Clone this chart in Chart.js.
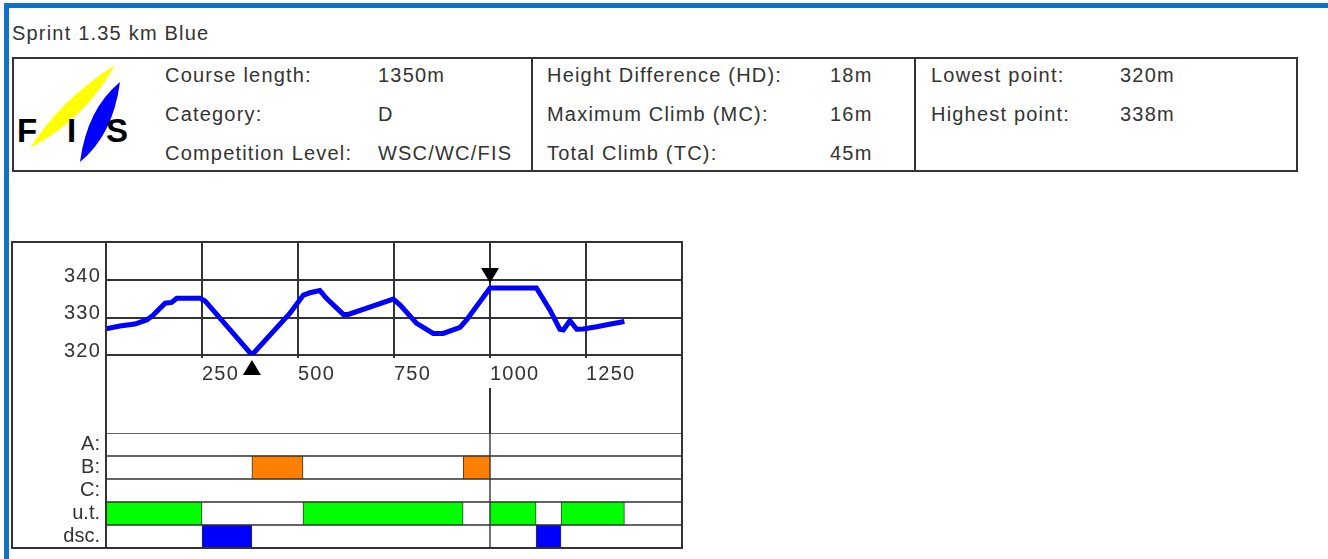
<!DOCTYPE html>
<html>
<head>
<meta charset="utf-8">
<script src="https://cdn.jsdelivr.net/npm/chart.js@4.4.1/dist/chart.umd.min.js"></script>
<style>
  html, body { margin: 0; padding: 0; background: #fff; }
  body { width: 1328px; height: 559px; position: relative; overflow: hidden;
         font-family: "Liberation Sans", Arial, sans-serif; color: #333; }
  .frame { position: absolute; background: #1272c9; }
  .t { position: absolute; font-size: 20px; line-height: 24px; letter-spacing: 1.2px; white-space: nowrap; }
  .box { position: absolute; border: 2px solid #333; box-sizing: border-box; pointer-events: none; }
  .vl { position: absolute; width: 2px; background: #333; }
  canvas { position: absolute; }
</style>
</head>
<body>
<div class="frame" style="left:4px;top:3px;width:1324px;height:5px"></div>
<div class="frame" style="left:4px;top:3px;width:5px;height:556px"></div>

<div class="t" style="left:12px;top:21px">Sprint 1.35 km Blue</div>

<div class="box" style="left:12px;top:57px;width:1286px;height:115px"></div>
<div class="vl" style="left:531px;top:57px;height:115px"></div>
<div class="vl" style="left:914px;top:57px;height:115px"></div>

<svg style="position:absolute;left:13px;top:59px" width="120" height="110" viewBox="0 0 120 110">
  <path d="M17,89 Q48,40 102,6 Q72,60 17,89 Z" fill="#ffff00"/>
  <path d="M67,103 Q74,50 107,23 Q100,76 67,103 Z" fill="#0000ff"/>
  <text x="4" y="83" font-family="Liberation Sans, Arial" font-size="33" font-weight="bold" fill="#000">F</text>
  <text x="54" y="83" font-family="Liberation Sans, Arial" font-size="33" font-weight="bold" fill="#000">I</text>
  <text x="93" y="83" font-family="Liberation Sans, Arial" font-size="33" font-weight="bold" fill="#000">S</text>
</svg>

<div class="t" style="left:165px;top:63px">Course length:</div>
<div class="t" style="left:165px;top:102px">Category:</div>
<div class="t" style="left:165px;top:141px">Competition Level:</div>
<div class="t" style="left:378px;top:63px">1350m</div>
<div class="t" style="left:378px;top:102px">D</div>
<div class="t" style="left:378px;top:141px">WSC/WC/FIS</div>

<div class="t" style="left:547px;top:63px">Height Difference (HD):</div>
<div class="t" style="left:547px;top:102px">Maximum Climb (MC):</div>
<div class="t" style="left:547px;top:141px">Total Climb (TC):</div>
<div class="t" style="left:830px;top:63px">18m</div>
<div class="t" style="left:830px;top:102px">16m</div>
<div class="t" style="left:830px;top:141px">45m</div>

<div class="t" style="left:931px;top:63px">Lowest point:</div>
<div class="t" style="left:931px;top:102px">Highest point:</div>
<div class="t" style="left:1120px;top:63px">320m</div>
<div class="t" style="left:1120px;top:102px">338m</div>

<canvas id="profile" width="671" height="192" style="left:11px;top:241px"></canvas>
<canvas id="rows" width="671" height="115" style="left:11px;top:433px"></canvas>
<div class="box" style="left:11px;top:241px;width:672px;height:308px"></div>
<div class="vl" style="left:105px;top:241px;height:308px"></div>

<script>
// height profile, distance (m) / height (m)
const distances  = [0, 36, 75, 106, 123, 154, 171, 184, 245, 258, 380, 479, 514, 531, 557, 574, 618, 631,
                    748, 766, 809, 852, 878, 922, 939, 1000, 1121, 1156, 1182, 1191, 1208, 1226, 1243, 1278, 1304, 1350];
const elevations = [327, 327.8, 328.3, 329.4, 330.7, 333.9, 334.1, 335.2, 335.2, 334.5, 320, 331.2, 336.1, 336.7, 337.3, 335.2, 330.9, 330.9,
                    335, 333.4, 328.5, 325.8, 325.8, 327.4, 329.4, 338, 338, 332.1, 326.9, 326.7, 329.2, 326.9, 327, 327.6, 328.1, 329];
const heightTicks = [320, 330, 340];
const distTicks = [0, 250, 500, 750, 1000, 1250, 1500];
const distLabels = ['', '250', '500', '750', '1000', '1250', ''];
const lowestPoint = [380, 320];
const highestPoint = [1000, 338];

// terrain rows
const rowLabels = ['A:', 'B:', 'C:', 'u.t.', 'dsc.'];
const climbsB = [[380, 513], [930, 1000]];
const undulating = [[0, 250], [513, 930], [1000, 1120], [1185, 1350]];
const descents = [[250, 380], [1120, 1185]];

const FONT = "'Liberation Sans', Arial, sans-serif";
const INK = '#333';

const spacing = {
  id: 'spacing',
  beforeDraw(chart) { chart.ctx.letterSpacing = '1.2px'; }
};

const markers = {
  id: 'markers',
  afterDatasetsDraw(chart) {
    const { ctx, chartArea, scales: { x, y } } = chart;
    const tri = (px, py, dir) => {
      ctx.beginPath();
      ctx.moveTo(px, py + 5 * dir);
      ctx.lineTo(px - 9, py + 20 * dir);
      ctx.lineTo(px + 9, py + 20 * dir);
      ctx.closePath();
      ctx.fill();
    };
    ctx.save();
    ctx.fillStyle = '#000';
    tri(x.getPixelForValue(lowestPoint[0]), y.getPixelForValue(lowestPoint[1]), 1);
    tri(x.getPixelForValue(highestPoint[0]), y.getPixelForValue(highestPoint[1]), -1);
    // line at the high point carries on below the labels
    const hx = Math.round(x.getPixelForValue(highestPoint[0]));
    ctx.fillStyle = INK;
    ctx.fillRect(hx - 1, chartArea.bottom + 33, 2, chart.height);
    ctx.restore();
  }
};

new Chart(document.getElementById('profile'), {
  type: 'line',
  data: {
    datasets: [{
      data: distances.map((d, i) => ({ x: d, y: elevations[i] })),
      borderColor: '#0000ff',
      borderWidth: 5,
      pointRadius: 0,
      tension: 0,
      fill: false
    }]
  },
  options: {
    responsive: false,
    animation: false,
    layout: { padding: 0 },
    plugins: { legend: { display: false }, tooltip: { enabled: false } },
    scales: {
      x: {
        type: 'linear', min: 0, max: 1500,
        border: { display: false },
        grid: { color: INK, lineWidth: 2, tickLength: 3 },
        afterBuildTicks: s => { s.ticks = distTicks.map(v => ({ value: v })); },
        afterFit: s => { s.height = 78; s.paddingLeft = 0; s.paddingRight = 0; },
        ticks: {
          align: 'start', padding: 4, maxRotation: 0, autoSkip: false,
          color: INK, font: { family: FONT, size: 20 },
          callback: (v, i) => distLabels[i]
        }
      },
      y: {
        min: 320, max: 350.6,
        border: { display: false },
        grid: { color: INK, lineWidth: 2, drawTicks: false },
        afterBuildTicks: s => { s.ticks = heightTicks.map(v => ({ value: v })); },
        afterFit: s => { s.width = 95; s.paddingTop = 0; s.paddingBottom = 0; },
        ticks: { padding: 5, labelOffset: -4, color: INK, font: { family: FONT, size: 20 } }
      }
    }
  },
  plugins: [spacing, markers]
});

const bar = { borderColor: INK, borderWidth: 1, borderSkipped: false, grouped: false,
              barPercentage: 1, categoryPercentage: 1 };
const split = highestPoint[0];

new Chart(document.getElementById('rows'), {
  type: 'bar',
  data: {
    datasets: [
      { ...bar, data: climbsB.map(s => ({ y: 'B:', x: s })), backgroundColor: '#ff8000' },
      { ...bar, data: undulating.map(s => ({ y: 'u.t.', x: s })), backgroundColor: '#00ff00' },
      { ...bar, data: descents.map(s => ({ y: 'dsc.', x: s })), backgroundColor: '#0000ff' },
      { ...bar, data: rowLabels.flatMap(r => [{ y: r, x: [0, split] }, { y: r, x: [split, 1500] }]),
        backgroundColor: '#fff' }
    ]
  },
  options: {
    indexAxis: 'y',
    responsive: false,
    animation: false,
    layout: { padding: 0 },
    plugins: { legend: { display: false }, tooltip: { enabled: false } },
    scales: {
      x: { type: 'linear', min: 0, max: 1500, display: false },
      y: {
        type: 'category', labels: rowLabels, offset: true,
        grid: { display: false, drawTicks: false }, border: { display: false },
        afterFit: s => { s.width = 95; s.paddingTop = 0; s.paddingBottom = 0; },
        ticks: { padding: 6, autoSkip: false, color: INK, font: { family: FONT, size: 20 } }
      }
    }
  }
});
</script>
</body>
</html>
